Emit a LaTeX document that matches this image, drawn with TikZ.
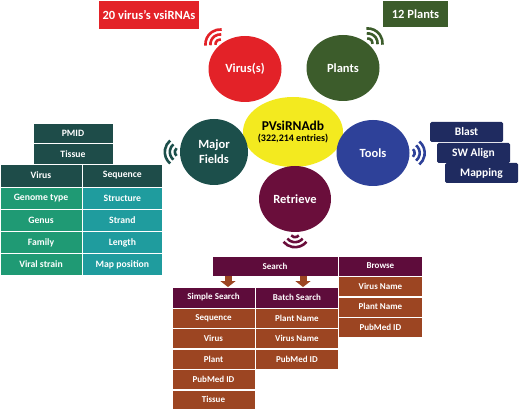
\documentclass[tikz,border=0pt]{standalone}
\usepackage{fontspec}
\setmainfont{Carlito}
\usepackage{tikz}
\usetikzlibrary{shapes,shapes.geometric,positioning,calc,arrows.meta}

\definecolor{vred}{HTML}{E32228}
\definecolor{pgreen}{HTML}{3C5C2B}
\definecolor{dbyellow}{HTML}{F3EA1F}
\definecolor{mfteal}{HTML}{1C4F4B}
\definecolor{toolblue}{HTML}{2E4199}
\definecolor{toolnavy}{HTML}{1F2B60}
\definecolor{retmaroon}{HTML}{6A0E3B}
\definecolor{headmaroon}{HTML}{5E0C3B}
\definecolor{rowbrown}{HTML}{9C4522}
\definecolor{fieldhead}{HTML}{1E4C49}
\definecolor{fieldgreen}{HTML}{1F9A74}
\definecolor{fieldteal}{HTML}{1F9C9E}

\newcommand{\signal}[3]{%
  \foreach \r in {5,10,15}
    \draw[#3, line width=2.6pt] ($(#1)+(#2+50:\r pt)$) arc[start angle=#2+50, end angle=#2-50, radius=\r pt];}

\begin{document}
\begin{tikzpicture}[x=1pt, y=-1pt,
      every node/.append style={inner sep=0pt, text=white, align=center},
      bubble/.style={ellipse, minimum width=73pt, minimum height=66pt, font=\bfseries\fontsize{12.5}{15}\selectfont},
      field/.style={rectangle, draw=white, line width=0.4pt, font=\bfseries\fontsize{9}{10}\selectfont, minimum height=21.7pt}]
    \tikzstyle{tag} = [rectangle, font=\bfseries\fontsize{12.5}{13}\selectfont]
    \tikzstyle{tool} = [rectangle, rounded corners=1.5pt, fill=toolnavy, minimum width=73pt, minimum height=20pt, font=\bfseries\fontsize{11.5}{12}\selectfont]
    \tikzstyle{fhead} = [field, fill=fieldhead, font=\bfseries\fontsize{9.7}{10}\selectfont]
    \tikzstyle{lcol} = [field, fill=fieldgreen, minimum width=82pt, font=\bfseries\fontsize{9.7}{10}\selectfont]
    \tikzstyle{rcol} = [field, fill=fieldteal, minimum width=80pt, font=\bfseries\fontsize{9.7}{10}\selectfont]
    \tikzstyle{shead} = [field, fill=headmaroon, minimum height=20.5pt]
    \tikzstyle{srow} = [field, fill=rowbrown, minimum height=20pt]
    \tikzstyle{push} = [rowbrown, line width=7pt, -{Triangle[width=15pt,length=6pt]}]
    \useasboundingbox (0,0) rectangle (520,409);

    \node[tag, fill=vred, minimum width=100pt, minimum height=28pt] (vtag) at (149,15) {20 virus’s vsiRNAs};
    \node[tag, fill=pgreen, minimum width=65pt, minimum height=26pt] (ptag) at (415.5,14) {12 Plants};

    \node[ellipse, fill=dbyellow, minimum width=100pt, minimum height=70pt, text=black] (db) at (293,132)
      {{\bfseries\fontsize{13.5}{14}\selectfont PVsiRNAdb}\\[-1.5pt]{\bfseries\fontsize{10}{10}\selectfont (322,214 entries)}};
    \node[bubble, fill=vred] (viruses) at (245,69) {Virus(s)};
    \node[bubble, fill=pgreen] (plants) at (343,68) {Plants};
    \node[bubble, fill=mfteal, minimum width=68pt] (fields) at (214,152) {Major\\Fields};
    \node[bubble, fill=toolblue] (tools) at (373,153) {Tools};
    \node[bubble, fill=retmaroon, minimum width=72pt] (retrieve) at (295,199) {Retrieve};

    \signal{viruses.135}{135}{vred}
    \signal{plants.45}{45}{pgreen}
    \signal{fields.west}{180}{mfteal}
    \signal{tools.east}{0}{toolblue}
    \signal{retrieve.south}{-90}{retmaroon}

    % tools
    \node[tool] (blast) at (466.5,132) {Blast};
    \node[tool] (align) at (473.5,153) {SW Align};
    \node[tool] (mapping) at (481.5,173) {Mapping};

    % major fields
    \node[fhead, minimum width=80pt, minimum height=20.5pt] (pmid) at (73,133) {PMID};
    \node[fhead, minimum width=80pt, minimum height=20.5pt, below=0pt of pmid] (tissue) {Tissue};
    \node[fhead, minimum width=82pt, minimum height=23pt] (virus) at (41,175.5) {Virus};
    \node[fhead, minimum width=80pt, minimum height=23pt, right=0pt of virus] (sequence) {Sequence};
    \node[lcol, below=0pt of virus] (genome) {Genome type};
    \node[lcol, below=0pt of genome] (genus) {Genus};
    \node[lcol, below=0pt of genus] (family) {Family};
    \node[lcol, below=0pt of family] (strain) {Viral strain};
    \node[rcol, below=0pt of sequence] (structure) {Structure};
    \node[rcol, below=0pt of structure] (strand) {Strand};
    \node[rcol, below=0pt of strand] (length) {Length};
    \node[rcol, below=0pt of length] (position) {Map position};

    % retrieve
    \node[shead, minimum width=126pt, minimum height=20pt] (search) at (275,266) {Search};
    \node[shead, minimum width=84pt, minimum height=20pt, right=0pt of search] (browse) {Browse};
    \node[srow, minimum width=84pt, below=0pt of browse] (wvirus) {Virus Name};
    \node[srow, minimum width=84pt, below=0pt of wvirus] (wplant) {Plant Name};
    \node[srow, minimum width=84pt, below=0pt of wplant] (wpubmed) {PubMed ID};
    \node[shead, minimum width=83pt] (simple) at (213.5,297.5) {Simple Search};
    \node[shead, minimum width=83pt, right=0pt of simple] (batch) {Batch Search};
    \node[srow, minimum width=83pt, below=0pt of simple] (ssequence) {Sequence};
    \node[srow, minimum width=83pt, below=0pt of ssequence] (svirus) {Virus};
    \node[srow, minimum width=83pt, below=0pt of svirus] (splant) {Plant};
    \node[srow, minimum width=83pt, below=0pt of splant] (spubmed) {PubMed ID};
    \node[srow, minimum width=83pt, below=0pt of spubmed] (stissue) {Tissue};
    \node[srow, minimum width=83pt, below=0pt of batch] (bplant) {Plant Name};
    \node[srow, minimum width=83pt, below=0pt of bplant] (bvirus) {Virus Name};
    \node[srow, minimum width=83pt, below=0pt of bvirus] (bpubmed) {PubMed ID};

    \coordinate (tosimple) at (228,0);
    \coordinate (tobatch) at (303,0);
    \draw[push] (search.south -| tosimple) -- (simple.north -| tosimple);
    \draw[push] (search.south -| tobatch) -- (batch.north -| tobatch);
\end{tikzpicture}
\end{document}
